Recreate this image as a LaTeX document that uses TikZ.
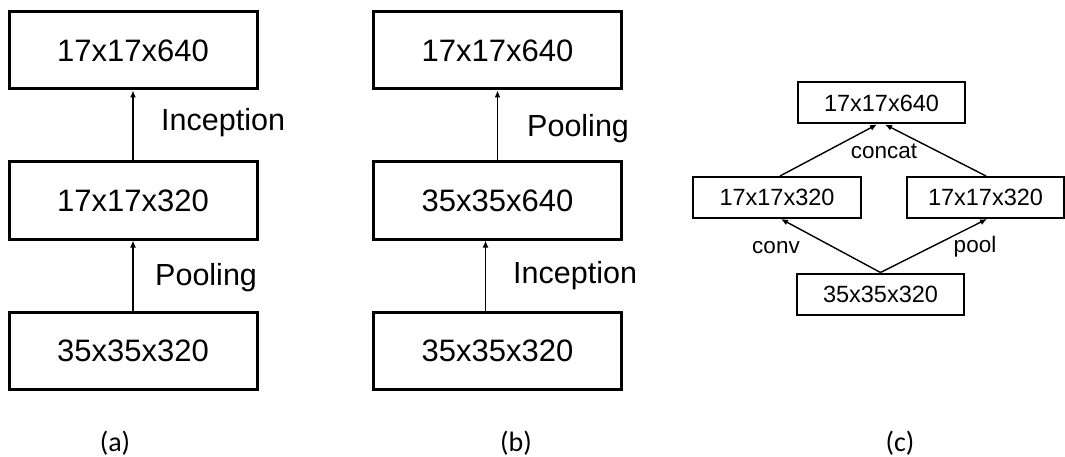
\documentclass[tikz,border=0pt]{standalone}
\usepackage{fontspec}
\setmainfont{Liberation Sans}
\newfontfamily\capfont{Carlito}
\usetikzlibrary{arrows.meta}

\tikzset{
  bigbox/.style={draw=black, line width=3pt, minimum width=248pt, minimum height=77pt,
    inner sep=0pt, font=\fontsize{31}{31}\selectfont},
  smallbox/.style={draw=black, line width=2pt, minimum height=41pt,
    inner sep=0pt, font=\fontsize{23.5}{23.5}\selectfont},
  biglabel/.style={anchor=base west, inner sep=0pt, font=\fontsize{30.5}{30.5}\selectfont},
  smalllabel/.style={anchor=base, inner sep=0pt, font=\fontsize{22.5}{22.5}\selectfont},
  caption/.style={inner sep=0pt, font=\capfont\fontsize{28}{28}\selectfont},
  arr/.style={-{Latex[length=7pt,width=6pt]}, line width=1.4pt},
}

\begin{document}
\begin{tikzpicture}[x=1pt, y=-1pt]
  \useasboundingbox (0,0) rectangle (1065,457);

  % (a): inception, then pooling
  \node[bigbox] (a1) at (133,350.5) {35x35x320};
  \node[bigbox] (a2) at (133,200.5) {17x17x320};
  \node[bigbox] (a3) at (133,50.5)  {17x17x640};
  \draw[arr] (a1.north) -- (a2.south);
  \draw[arr] (a2.north) -- (a3.south);
  \node[biglabel] (a12) at (155,285) {Pooling};
  \node[biglabel] (a23) at (161,131) {Inception};
  \node[caption] (capa) at (115,443) {(a)};

  % (b): pooling, then inception
  \node[bigbox] (b1) at (497.5,350.5) {35x35x320};
  \node[bigbox] (b2) at (497.5,200.5) {35x35x640};
  \node[bigbox] (b3) at (497.5,50.5)  {17x17x640};
  \draw[arr] ([xshift=-12pt]b1.north) -- ([xshift=-12pt]b2.south);
  \draw[arr] (b2.north) -- (b3.south);
  \node[biglabel] (b12) at (513,283) {Inception};
  \node[biglabel] (b23) at (527,137) {Pooling};
  \node[caption] (capb) at (516,443) {(b)};

  % (c): parallel conv and pool branches, concatenated
  \node[smallbox, minimum width=167pt] (c1) at (880.5,294)   {35x35x320};
  \node[smallbox, minimum width=168pt] (cl) at (777,197.5)   {17x17x320};
  \node[smallbox, minimum width=157pt] (cr) at (985.5,197.5) {17x17x320};
  \node[smallbox, minimum width=167pt] (c4) at (881.5,103)   {17x17x640};
  \draw[arr] (c1.north) -- ([xshift=4pt]cl.south);
  \draw[arr] (c1.north) -- ([xshift=1.5pt]cr.south);
  \draw[arr] ([xshift=3pt]cl.north) -- ([xshift=-4.5pt]c4.south);
  \draw[arr] ([xshift=0.5pt]cr.north) -- ([xshift=3.5pt]c4.south);
  \node[smalllabel] (lconcat) at (884,159) {concat};
  \node[smalllabel] (lconv)   at (776,253) {conv};
  \node[smalllabel] (lpool)   at (975,252) {pool};
  \node[caption] (capc) at (900,443) {(c)};
\end{tikzpicture}
\end{document}
